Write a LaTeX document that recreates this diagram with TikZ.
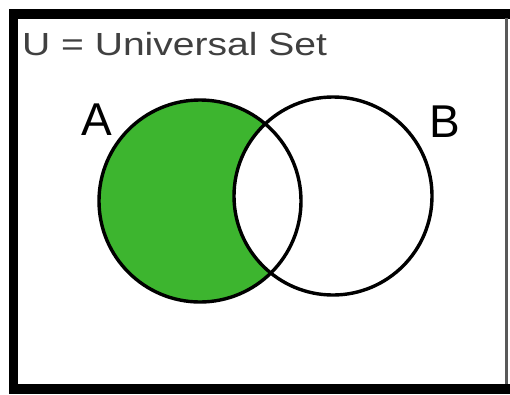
\documentclass[tikz,border=0pt]{standalone}
\usepackage{fontspec}
\usepackage{graphicx}
\setmainfont{Liberation Sans}
\usepackage{tikz}
\usetikzlibrary{positioning}
\definecolor{cGreen}{HTML}{3DB52F}
\definecolor{cText}{HTML}{404040}

\begin{document}
\begin{tikzpicture}[x=1pt,y=-1pt,
   setlbl/.style={anchor=base west,inner sep=0pt,font=\fontsize{46}{46}\selectfont},
   ring/.style={draw=black,line width=3.4pt}]
  \useasboundingbox (0,0) rectangle (510,394);
  % frame of the universal set
  \fill[black] (9,9) rectangle (510,18.5);
  \fill[black] (9,9) rectangle (18,394);
  \fill[black] (9,384) rectangle (510,394);
  \fill[black!65] (505,18) rectangle (508,384);
  \node[anchor=base west,inner sep=0pt,text=cText,font=\fontsize{32}{32}\selectfont] (u) at (22,55)
     {\scalebox{1.22}[1]{U = Universal Set}};
  % the two sets
  \coordinate (ca) at (200,201);
  \coordinate (cb) at (333,196);
  \fill[cGreen] (ca) circle (101);
  \fill[white] (cb) circle (99);
  \draw[ring] (ca) circle (101);
  \draw[ring] (cb) circle (99);
  \node[setlbl] (a) at (81,135) {A};
  \node[setlbl] (b) at (429,137) {B};
\end{tikzpicture}
\end{document}
